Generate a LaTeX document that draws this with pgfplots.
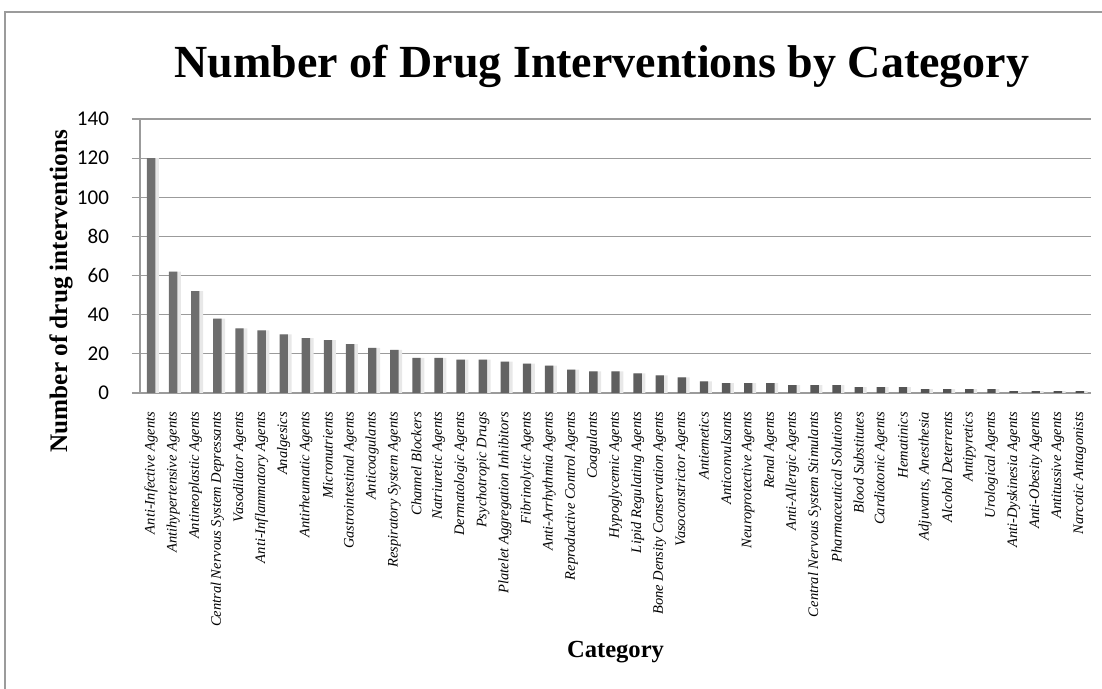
\documentclass[border=0pt]{standalone}
\usepackage{pgfplots}
\pgfplotsset{compat=1.18}
\usepackage{fontspec}
\setmainfont{Liberation Serif}
\newfontfamily\numf{Carlito}
\definecolor{gridc}{RGB}{155,155,155}
\definecolor{barA}{RGB}{112,112,112}
\definecolor{barB}{RGB}{95,95,95}
\definecolor{barC}{RGB}{78,78,78}
\definecolor{shad}{RGB}{232,232,232}
\begin{document}
\begin{tikzpicture}
\path[use as bounding box] (-70pt,-148pt) rectangle (481pt,196.5pt);
\draw[gridc, line width=0.6pt] (-67.5pt,-148pt) -- (-67.5pt,190.5pt) -- (481pt,190.5pt);
\begin{axis}[
  at={(0pt,0pt)}, anchor=south west,
  scale only axis, width=475.5pt, height=137pt,
  xmin=-0.5, xmax=42.5, ymin=0, ymax=140,
  ytick={0,20,...,140},
  xtick={0,...,42},
  xticklabels={Anti-Infective Agents, Antihypertensive Agents, Antineoplastic Agents, Central Nervous System Depressants, Vasodilator Agents, Anti-Inflammatory Agents, Analgesics, Antirheumatic Agents, Micronutrients, Gastrointestinal Agents, Anticoagulants, Respiratory System Agents, Channel Blockers, Natriuretic Agents, Dermatologic Agents, Psychotropic Drugs, Platelet Aggregation Inhibitors, Fibrinolytic Agents, Anti-Arrhythmia Agents, Reproductive Control Agents, Coagulants, Hypoglycemic Agents, Lipid Regulating Agents, Bone Density Conservation Agents, Vasoconstrictor Agents, Antiemetics, Anticonvulsants, Neuroprotective Agents, Renal Agents, Anti-Allergic Agents, Central Nervous System Stimulants, Pharmaceutical Solutions, Blood Substitutes, Cardiotonic Agents, Hematinics, {Adjuvants, Anesthesia}, Alcohol Deterrents, Antipyretics, Urological Agents, Anti-Dyskinesia Agents, Anti-Obesity Agents, Antitussive Agents, Narcotic Antagonists},
  xticklabel style={rotate=90, anchor=east, font=\itshape\fontsize{7.25}{8}\selectfont, xshift=-2pt},
  yticklabel style={font=\numf\fontsize{10.5}{12}\selectfont, xshift=-8pt},
  /pgf/number format/assume math mode=true,
  axis x line*=bottom, axis y line*=left,
  axis line style={gridc, line width=0.6pt, -},
  ymajorgrids, grid style={gridc, line width=0.6pt},
  ytick style={gridc, line width=0.6pt},
  xtick style={draw=none},
  tick align=outside, major tick length=4pt,
  xlabel={Category},
  xlabel style={font=\bfseries\fontsize{12.3}{14}\selectfont, at={(rel axis cs:0.5,0)}, anchor=center, yshift=-129.5pt},
  ylabel={Number of drug interventions},
  ylabel style={font=\bfseries\fontsize{12.6}{14}\selectfont, at={(rel axis cs:0,0)}, anchor=center, xshift=51pt, yshift=39.5pt},
]
\addplot[ybar, bar width=5.6pt, bar shift=1.1pt, draw=none, fill=shad] coordinates {
(0,120) (1,62) (2,52) (3,38) (4,33) (5,32) (6,30) (7,28) (8,27) (9,25)
(10,23) (11,22) (12,18) (13,18) (14,17) (15,17) (16,16) (17,15) (18,14) (19,12)
(20,11) (21,11) (22,10) (23,9) (24,8) (25,6) (26,5) (27,5) (28,5) (29,4)
(30,4) (31,4) (32,3) (33,3) (34,3) (35,2) (36,2) (37,2) (38,2) (39,1)
(40,1) (41,1) (42,1)};
\addplot[ybar, bar width=4.2pt, bar shift=0pt, draw=none, left color=barA, middle color=barB, right color=barC] coordinates {
(0,120) (1,62) (2,52) (3,38) (4,33) (5,32) (6,30) (7,28) (8,27) (9,25)
(10,23) (11,22) (12,18) (13,18) (14,17) (15,17) (16,16) (17,15) (18,14) (19,12)
(20,11) (21,11) (22,10) (23,9) (24,8) (25,6) (26,5) (27,5) (28,5) (29,4)
(30,4) (31,4) (32,3) (33,3) (34,3) (35,2) (36,2) (37,2) (38,2) (39,1)
(40,1) (41,1) (42,1)};
\end{axis}
\node[anchor=base, font=\bfseries\fontsize{23}{27}\selectfont] at (231pt,157.5pt) {Number of Drug Interventions by Category};
\end{tikzpicture}
\end{document}
